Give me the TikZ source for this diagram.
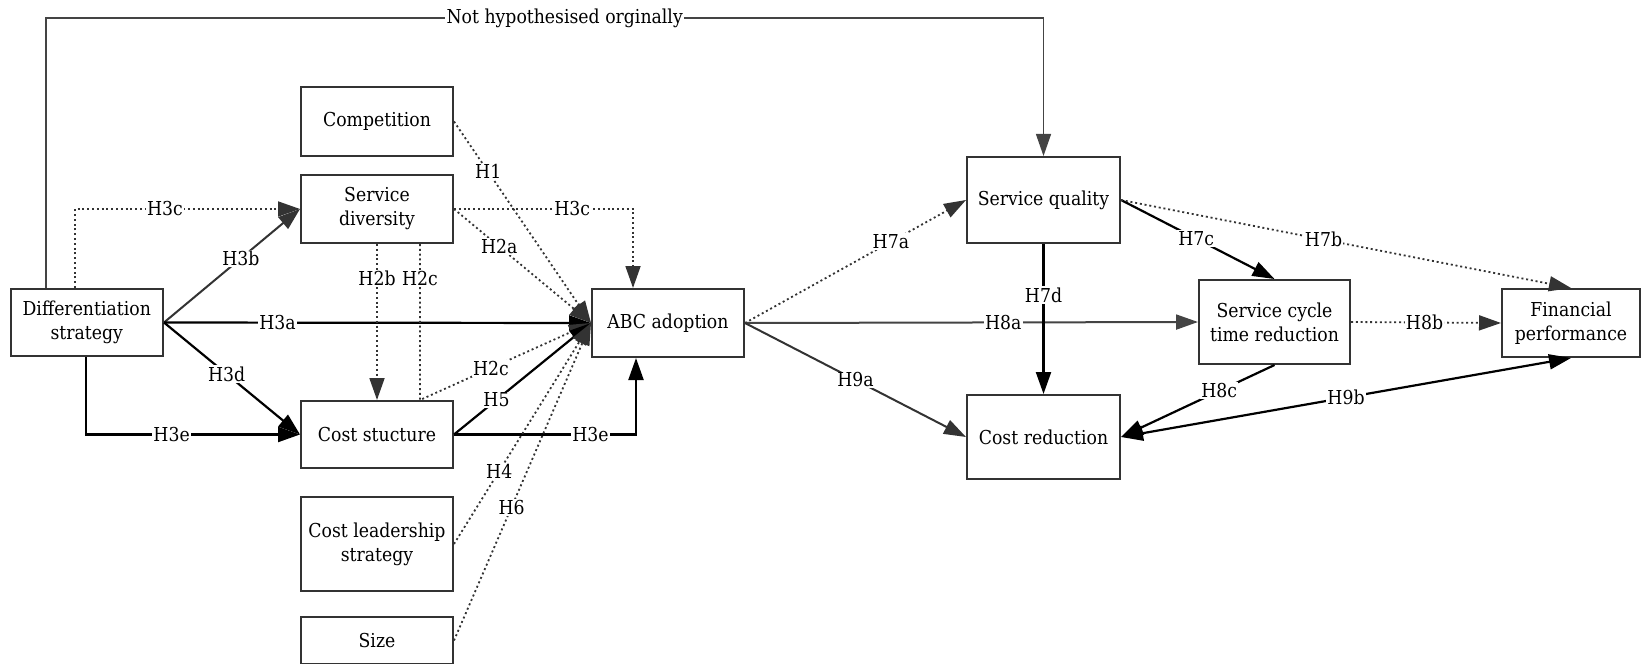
\documentclass[tikz,border=0pt]{standalone}
\usepackage{fontspec}
\setmainfont{DejaVu Serif}[FakeStretch=0.9]
\usetikzlibrary{arrows.meta}
\definecolor{ln}{HTML}{333333}
\definecolor{lnlight}{HTML}{444444}
\begin{document}
\begin{tikzpicture}[x=0.5pt,y=-0.5pt,
  txt/.style={font=\fontsize{9.6}{12}\selectfont},
  box/.style={draw=ln, line width=1pt, fill=white, align=center, inner sep=0pt, txt},
  lab/.style={fill=white, inner sep=0.6pt, txt},
  tip/.style={-{Triangle[length=11pt,width=7.5pt]}},
  solid line/.style={draw=ln, line width=1pt, tip},
  heavy line/.style={draw=black, line width=1.1pt, tip},
  dot line/.style={draw=ln, line width=0.9pt, dash pattern=on 1pt off 1.4pt, tip},
]
\useasboundingbox (0,0) rectangle (1641,663);

% boxes (centre, width, height in pixel units)
\node[box, minimum width=76pt,   minimum height=34.5pt] (comp) at (377,121.5) {Competition};
\node[box, minimum width=76pt,   minimum height=34pt]   (sd)   at (377,209)   {Service\\diversity};
\node[box, minimum width=76.25pt,minimum height=33.5pt] (diff) at (86.75,322.5) {Differentiation\\strategy};
\node[box, minimum width=76pt,   minimum height=34pt]   (abc)  at (668,323)   {ABC adoption};
\node[box, minimum width=76pt,   minimum height=33.5pt] (cs)   at (377,434.5) {Cost stucture};
\node[box, minimum width=76pt,   minimum height=47pt]   (cl)   at (377,544)   {Cost leadership\\strategy};
\node[box, minimum width=76pt,   minimum height=23.5pt] (size) at (377,640.5) {Size};
\node[box, minimum width=76.5pt, minimum height=43pt]   (sq)   at (1043.5,200) {Service quality};
\node[box, minimum width=75.5pt, minimum height=42pt]   (sctr) at (1274.5,322) {Service cycle\\time reduction};
\node[box, minimum width=69pt,   minimum height=34pt]   (fp)   at (1571,323)  {Financial\\performance};
\node[box, minimum width=76.5pt, minimum height=42pt]   (cr)   at (1043.5,437) {Cost reduction};

% relation that was not hypothesised originally
\draw[draw=lnlight, line width=0.7pt, tip] ([xshift=18.25pt]diff.north west) -- ++(0,-270)
  -| node[lab, pos=0.26] {Not hypothesised orginally} (sq.north);

% differentiation strategy paths
\draw[dot line] ([xshift=32.75pt]diff.north west) |- node[lab, pos=0.7] {H3c} (sd.west);
\draw[dot line] (sd.east) -| node[lab, pos=0.33] {H3c} ([xshift=21pt]abc.north west);
\draw[solid line] (diff.east) -- node[lab, pos=0.565] {H3b} (sd.west);
\draw[heavy line] (diff.east) -- node[lab, pos=0.266] {H3a} (abc.west);
\draw[heavy line] (diff.east) -- node[lab, pos=0.46] {H3d} (cs.west);
\draw[heavy line] ([xshift=38.25pt]diff.south west) |- node[lab, pos=0.7] {H3e} (cs.west);
\draw[heavy line] (cs.east) -| node[lab, pos=0.375] {H3e} ([xshift=22.5pt]abc.south west);

% service diversity and cost structure
\draw[dot line] (sd.south) -- node[lab, pos=0.22] {H2b} (cs.north);
\draw[dot line] ([xshift=60pt]sd.south west) -- node[lab, pos=0.22] {H2c} ([xshift=60pt]cs.north west)
  -- node[lab, pos=0.415] {H2c} (abc.west);
\draw[dot line] (sd.east) -- node[lab, pos=0.33] {H2a} (abc.west);
\draw[dot line] (comp.east) -- node[lab, pos=0.25] {H1} (abc.west);
\draw[heavy line] (cs.east) -- node[lab, pos=0.31] {H5} (abc.west);
\draw[dot line] (cl.east) -- node[lab, pos=0.33] {H4} (abc.west);
\draw[dot line] (size.east) -- node[lab, pos=0.42] {H6} (abc.west);

% outcomes of ABC adoption
\draw[dot line] (abc.east) -- node[lab, pos=0.66] {H7a} (sq.west);
\draw[solid line, draw=lnlight] (abc.east) -- node[lab, pos=0.57] {H8a} (sctr.west);
\draw[solid line] (abc.east) -- node[lab, pos=0.5] {H9a} (cr.west);
\draw[heavy line] (sq.south) -- node[lab, pos=0.34] {H7d} (cr.north);
\draw[heavy line] (sq.east) -- node[lab, pos=0.49] {H7c} (sctr.north);
\draw[dot line] (sq.east) -- node[lab, pos=0.45] {H7b} (fp.north);
\draw[dot line] (sctr.east) -- node[lab, pos=0.49] {H8b} (fp.west);
\draw[heavy line] (sctr.south) -- node[lab, pos=0.36] {H8c} (cr.east);
\draw[heavy line, {Triangle[length=11pt,width=7.5pt]}-{Triangle[length=11pt,width=7.5pt]}] (cr.east) -- node[lab, pos=0.5] {H9b} (fp.south);
\end{tikzpicture}
\end{document}
